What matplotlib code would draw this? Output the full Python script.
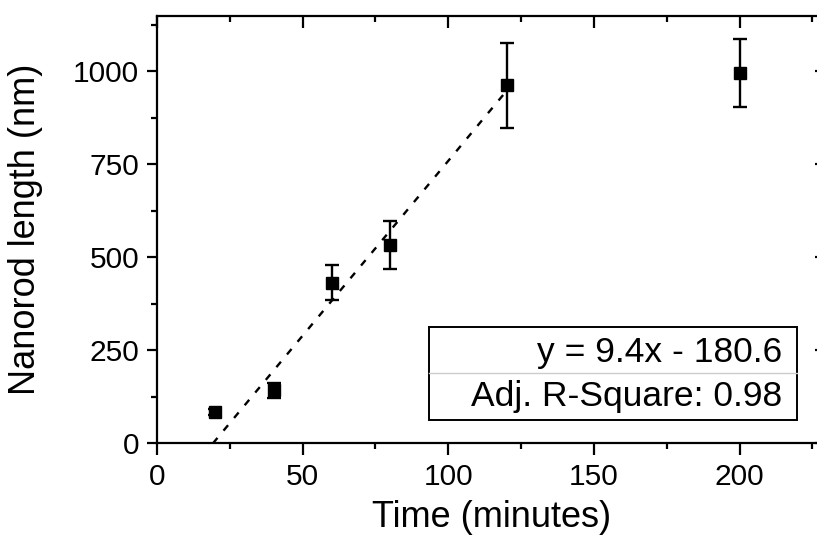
import matplotlib
matplotlib.use("Agg")
import matplotlib.pyplot as plt
import numpy as np
from matplotlib.patches import Rectangle
from matplotlib.ticker import MultipleLocator

plt.rcParams['font.family'] = ['Liberation Sans', 'DejaVu Sans']

# data
time_min = [20, 40, 60, 80, 120, 200]
length_nm = [85, 143, 432, 533, 962, 995]
err_nm = [8, 20, 47, 64, 114, 92]
fit_slope = 9.4
fit_intercept = -180.6
fit_range = [19.2, 120]
fit_text = ["y = 9.4x - 180.6", "Adj. R-Square: 0.98"]

fig = plt.figure(figsize=(8.17, 5.35), dpi=100)
ax = fig.add_axes([157/817, 91.7/535, 670/817, 427.8/535])

ax.errorbar(time_min, length_nm, yerr=err_nm, fmt='s', color='black',
            markersize=9, elinewidth=1.7, capsize=5, capthick=1.7, zorder=3)

fx = np.array(fit_range)
ax.plot(fx, fit_slope * fx + fit_intercept, color='black', lw=1.7,
        linestyle=(0, (3, 4)), zorder=2)

ax.set_xlim(0, 230)
ax.set_ylim(0, 1150)
ax.xaxis.set_major_locator(MultipleLocator(50))
ax.xaxis.set_minor_locator(MultipleLocator(25))
ax.yaxis.set_major_locator(MultipleLocator(250))
ax.yaxis.set_minor_locator(MultipleLocator(125))

for s in ax.spines.values():
    s.set_linewidth(1.6)

ax.tick_params(axis='both', which='major', width=1.6, labelsize=21.5, direction='out')
ax.tick_params(axis='both', which='minor', width=1.6, direction='out')
ax.tick_params(axis='x', which='major', length=8.5, top=True, pad=6)
ax.tick_params(axis='x', which='minor', length=4.5, top=True)
ax.tick_params(axis='y', which='major', length=7, right=True, pad=6)
ax.tick_params(axis='y', which='minor', length=4, right=True)
# top/right ticks go inward
for t in ax.xaxis.get_major_ticks() + ax.xaxis.get_minor_ticks():
    t.tick2line.set_marker(3)  # TICKDOWN
for t in ax.yaxis.get_major_ticks() + ax.yaxis.get_minor_ticks():
    t.tick2line.set_marker(0)  # TICKLEFT
for t in ax.yaxis.get_major_ticks():
    t.tick2line.set_markersize(9)

ax.set_xlabel("Time (minutes)", fontsize=26)
ax.set_ylabel("Nanorod length (nm)", fontsize=26)
ax.xaxis.set_label_coords(0.5, -0.132)
ax.yaxis.set_label_coords(-0.170, 0.5)

# fit result box
ax.add_patch(Rectangle((0.406, 0.0545), 0.549, 0.2175, transform=ax.transAxes,
                       fill=False, edgecolor='black', lw=1.4, zorder=4))
ax.plot([0.406, 0.955], [0.164, 0.164], transform=ax.transAxes,
        color='#cccccc', lw=1.0, zorder=4)
ax.text(0.933, 0.212, fit_text[0], transform=ax.transAxes, ha='right',
        va='center', fontsize=25.5, zorder=5)
ax.text(0.933, 0.110, fit_text[1], transform=ax.transAxes, ha='right',
        va='center', fontsize=25.5, zorder=5)

fig.savefig("out.png", dpi=100)
